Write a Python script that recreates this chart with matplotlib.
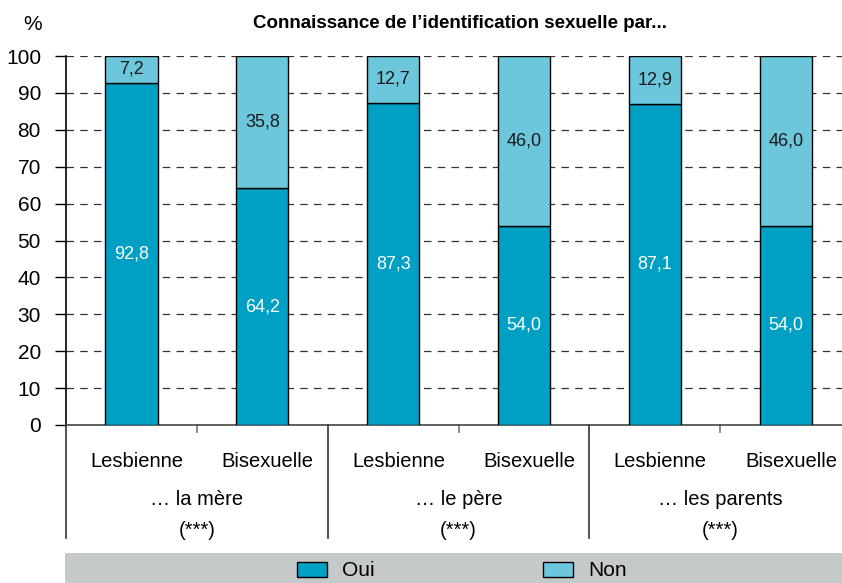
import matplotlib
matplotlib.use("Agg")
import matplotlib.pyplot as plt
from matplotlib.patches import Rectangle
import numpy as np

# data
groups = ["… la mère", "… le père", "… les parents"]
signif = ["(***)", "(***)", "(***)"]
categories = ["Lesbienne", "Bisexuelle"] * 3
oui = [92.8, 64.2, 87.3, 54.0, 87.1, 54.0]
non = [7.2, 35.8, 12.7, 46.0, 12.9, 46.0]
series_names = ["Oui", "Non"]
y_ticks = list(range(0, 101, 10))

c_oui = "#00a0c4"
c_non = "#6cc7dd"
c_band = "#c6c9ca"

plt.rcParams["font.family"] = ["Liberation Sans Narrow", "Liberation Sans", "DejaVu Sans"]

fig = plt.figure(figsize=(8.42, 5.83), dpi=100)
W, H = 842, 583
ax = fig.add_axes([66 / W, 1 - 425 / H, 1 - 66 / W, (425 - 56) / H])

x = np.arange(len(categories))
ax.bar(x, oui, width=0.4, color=c_oui, edgecolor="black", linewidth=1, zorder=3)
ax.bar(x, non, width=0.4, bottom=oui, color=c_non, edgecolor="black", linewidth=1, zorder=3)

def fmt(v):
    return f"{v:.1f}".replace(".", ",")

for xi, o, n in zip(x, oui, non):
    ax.text(xi, o / 2, fmt(o), ha="center", va="center", color="white", fontsize=13, zorder=4)
    ax.text(xi, o + n / 2, fmt(n), ha="center", va="center", color="#1a1a1a", fontsize=13, zorder=4)

ax.set_xlim(-0.5, 5.43)
ax.set_ylim(0, 100)
ax.set_yticks(y_ticks)
ax.tick_params(axis="y", labelsize=15, length=8, width=1, direction="out", pad=10)
ax.set_xticks([])
for yv in y_ticks[1:]:
    ax.axhline(yv, color="#333333", linestyle=(0, (6, 5)), linewidth=0.9, zorder=1)

for s in ["top", "right"]:
    ax.spines[s].set_visible(False)
ax.spines["left"].set_linewidth(1.2)
ax.spines["bottom"].set_color("#444444")
ax.spines["bottom"].set_linewidth(1.2)

trans = ax.get_xaxis_transform()
# group dividers
for xd in [-0.5, 1.5, 3.5]:
    ax.plot([xd, xd], [0, -0.306], transform=trans, color="#333333", lw=1.2, clip_on=False)
# small ticks between categories
for xm in [0.5, 2.5, 4.5]:
    ax.plot([xm, xm], [0, -0.02], transform=trans, color="#777777", lw=1.2, clip_on=False)

for xi, cat in zip(x, categories):
    ax.text(xi + 0.04, -0.1, cat, transform=trans, ha="center", va="center", fontsize=14.5)
for gi, (g, s) in enumerate(zip(groups, signif)):
    ax.text(2 * gi + 0.5, -0.203, g, transform=trans, ha="center", va="center", fontsize=14.5)
    ax.text(2 * gi + 0.5, -0.285, s, transform=trans, ha="center", va="center", fontsize=14.5)

fig.text(33 / W, 1 - 25 / H, "%", ha="center", va="center", fontsize=15)
fig.text(460 / W, 1 - 23 / H, "Connaissance de l’identification sexuelle par...",
         ha="center", va="center", fontsize=13.5, fontweight="bold")

# legend band
lax = fig.add_axes([65 / W, 0, 1 - 65 / W, 30 / H])
lax.set_xlim(65, 842)
lax.set_ylim(0, 30)
lax.set_facecolor(c_band)
lax.set_xticks([])
lax.set_yticks([])
for s in lax.spines.values():
    s.set_visible(False)
for name, col, px in zip(series_names, [c_oui, c_non], [297, 543]):
    lax.add_patch(Rectangle((px, 6), 30, 15, facecolor=col, edgecolor="black", lw=1))
    lax.text(px + 45, 13, name, ha="left", va="center", fontsize=15)

fig.savefig("out.png", dpi=100)
